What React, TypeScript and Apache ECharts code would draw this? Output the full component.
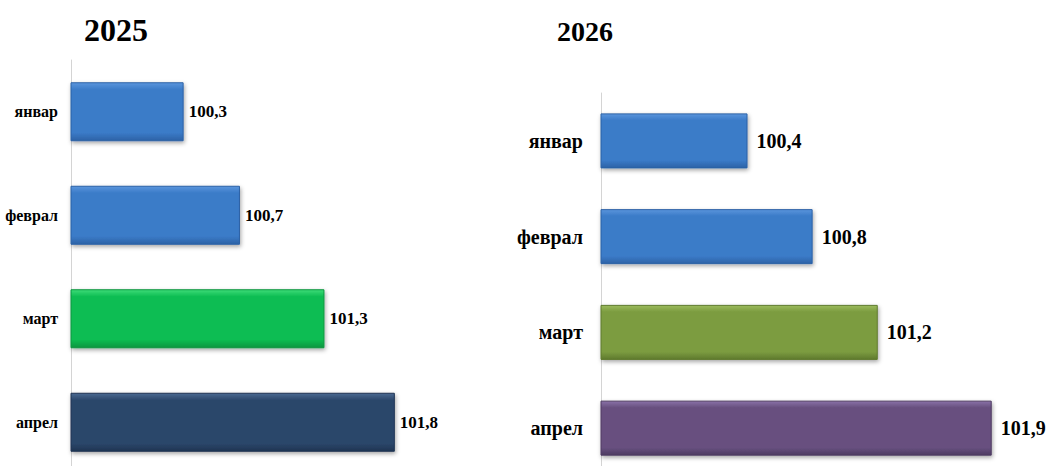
import React, { useEffect, useRef } from "react";
import * as echarts from "echarts";

const months = ["январ", "феврал", "март", "апрел"];
const values2025 = [100.3, 100.7, 101.3, 101.8];
const values2026 = [100.4, 100.8, 101.2, 101.9];
const titles = ["2025", "2026"];

const colors2025 = [
  ["#5a95dc", "#3b7bc8", "#2c62a6"],
  ["#5a95dc", "#3b7bc8", "#2c62a6"],
  ["#3ddc78", "#0dbd52", "#09963f"],
  ["#4a6a92", "#2c476b", "#1f3452"],
];
const colors2026 = [
  ["#5a95dc", "#3b7bc8", "#2c62a6"],
  ["#5a95dc", "#3b7bc8", "#2c62a6"],
  ["#9bbb5c", "#7c9c40", "#5f7a2e"],
  ["#8a72a8", "#68507f", "#4e3b62"],
];

function grad(c: string[]) {
  return new echarts.graphic.LinearGradient(0, 0, 0, 1, [
    { offset: 0, color: c[0] },
    { offset: 0.12, color: c[1] },
    { offset: 0.86, color: c[1] },
    { offset: 1, color: c[2] },
  ]);
}

export default function App() {
  const ref = useRef<HTMLDivElement>(null);
  useEffect(() => {
    if (!ref.current) return;
    const chart = echarts.init(ref.current, undefined, { renderer: "svg" });
    const font = "'Liberation Serif', 'Times New Roman', serif";
    chart.setOption({
      animation: false,
      backgroundColor: "#ffffff",
      title: [
        {
          text: titles[0],
          left: 79,
          top: 9,
          textStyle: { fontFamily: font, fontWeight: "bold", fontSize: 32, color: "#000" },
        },
        {
          text: titles[1],
          left: 552,
          top: 12,
          textStyle: { fontFamily: font, fontWeight: "bold", fontSize: 28, color: "#000" },
        },
      ],
      grid: [
        { left: 71, top: 60, width: 352, height: 414 },
        { left: 601, top: 93, width: 407, height: 383 },
      ],
      xAxis: [
        { type: "value", gridIndex: 0, min: 99.5, max: 102, show: false },
        { type: "value", gridIndex: 1, min: 99.5, max: 102, show: false },
      ],
      yAxis: [
        {
          type: "category",
          gridIndex: 0,
          data: months,
          inverse: true,
          axisLine: { show: true, lineStyle: { color: "#d4d4d4", width: 1 } },
          axisTick: { show: false },
          axisLabel: {
            margin: 13,
            fontFamily: font,
            fontWeight: "bold",
            fontSize: 16,
            color: "#000",
          },
        },
        {
          type: "category",
          gridIndex: 1,
          data: months,
          inverse: true,
          axisLine: { show: true, lineStyle: { color: "#d4d4d4", width: 1 } },
          axisTick: { show: false },
          axisLabel: {
            margin: 18,
            fontFamily: font,
            fontWeight: "bold",
            fontSize: 20,
            color: "#000",
          },
        },
      ],
      series: [
        {
          type: "bar",
          xAxisIndex: 0,
          yAxisIndex: 0,
          barWidth: 59,
          data: values2025.map((v, i) => ({
            value: v,
            itemStyle: {
              color: grad(colors2025[i]),
              borderColor: colors2025[i][2],
              borderWidth: 1,
              shadowBlur: 4,
              shadowOffsetY: 2,
              shadowOffsetX: 1,
              shadowColor: "rgba(0,0,0,0.35)",
            },
          })),
          label: {
            show: true,
            position: "right",
            distance: 5,
            formatter: (p: any) => String(p.value).replace(".", ","),
            fontFamily: font,
            fontWeight: "bold",
            fontSize: 17,
            color: "#000",
          },
        },
        {
          type: "bar",
          xAxisIndex: 1,
          yAxisIndex: 1,
          barWidth: 55,
          data: values2026.map((v, i) => ({
            value: v,
            itemStyle: {
              color: grad(colors2026[i]),
              borderColor: colors2026[i][2],
              borderWidth: 1,
              shadowBlur: 4,
              shadowOffsetY: 2,
              shadowOffsetX: 1,
              shadowColor: "rgba(0,0,0,0.35)",
            },
          })),
          label: {
            show: true,
            position: "right",
            distance: 9,
            formatter: (p: any) => String(p.value).replace(".", ","),
            fontFamily: font,
            fontWeight: "bold",
            fontSize: 20,
            color: "#000",
          },
        },
      ],
    });
    return () => chart.dispose();
  }, []);
  return (
    <div style={{ position: "fixed", left: 0, top: 0, width: 1060, height: 466, overflow: "hidden" }}>
      <div ref={ref} style={{ width: 1060, height: 520 }} />
    </div>
  );
}
